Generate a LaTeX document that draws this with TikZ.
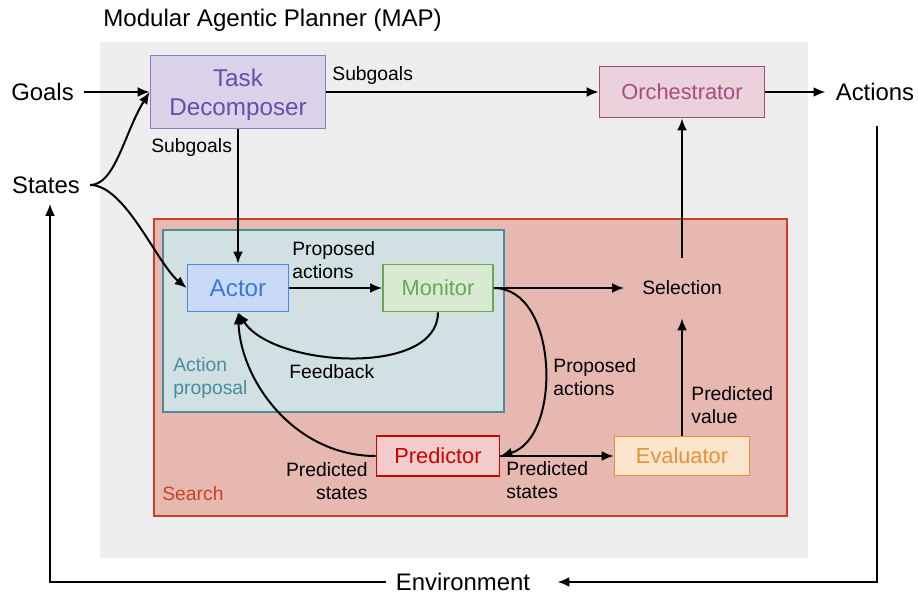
\documentclass[tikz,border=0pt]{standalone}
\usepackage{fontspec}
\setmainfont{Liberation Sans}
\usetikzlibrary{arrows.meta}
\definecolor{mapgray}{HTML}{EEEEEE}
\definecolor{searchfill}{HTML}{E6B8AF}
\definecolor{searchdraw}{HTML}{CC4125}
\definecolor{propfill}{HTML}{D0E0E3}
\definecolor{propdraw}{HTML}{4A8C99}
\definecolor{tdfill}{HTML}{D9D2E9}
\definecolor{tddraw}{HTML}{8E7CC3}
\definecolor{tdtext}{HTML}{674EA7}
\definecolor{orchfill}{HTML}{EAD1DC}
\definecolor{orchdraw}{HTML}{A64D79}
\definecolor{actorfill}{HTML}{C9DAF8}
\definecolor{actordraw}{HTML}{4A86E8}
\definecolor{actortext}{HTML}{3C78D8}
\definecolor{monfill}{HTML}{D9EAD3}
\definecolor{mondraw}{HTML}{6AA84F}
\definecolor{predfill}{HTML}{F4CCCC}
\definecolor{preddraw}{HTML}{CC0000}
\definecolor{evalfill}{HTML}{FCE5CD}
\definecolor{evaldraw}{HTML}{E69138}
\begin{document}
\begin{tikzpicture}[x=0.02cm, y=-0.02cm]
	\tikzset{>={Latex[length=6.8pt,width=5.6pt]}}
	\tikzset{
		big/.style={font=\fontsize{13.6}{16}\selectfont, inner sep=0.2cm},
		small/.style={font=\fontsize{11}{13.3}\selectfont, inner sep=0, align=left},
		module/.style={line width=1pt, inner sep=0, align=center, font=\fontsize{12.4}{15}\selectfont},
		flow/.style={->, line width=1.134pt}
	}
	\useasboundingbox (0,0) rectangle (918,594);
	\fill[color=mapgray] (100,42) rectangle (808,558);
	\filldraw[fill=searchfill, draw=searchdraw, line width=0.9pt] (154,219) rectangle (787,516);
	\filldraw[fill=propfill, draw=propdraw, line width=0.9pt] (163,230) rectangle (504,412);
	\node[anchor=base west, inner sep=0, font=\fontsize{13.7}{16}\selectfont] (title) at (103,27) {Modular Agentic Planner (MAP)};
	\node[small, anchor=base west, text=searchdraw] (search) at (162,500) {Search};
	\node[small, anchor=north west, text=propdraw] (proposal) at (173,357) {Action\\proposal};

	\node[module, fill=tdfill, draw=tddraw, text=tdtext, minimum width=3.5cm, minimum height=1.46cm, font=\fontsize{13.8}{17}\selectfont] (td) at (238,92) {\raisebox{-1.7pt}[\height][\depth]{\begin{tabular}{@{}c@{}}Task\\Decomposer\end{tabular}}};
	\node[module, fill=orchfill, draw=orchdraw, text=orchdraw, minimum width=3.3cm, minimum height=1.02cm] (orch) at (682,92) {Orchestrator};
	\node[module, fill=actorfill, draw=actordraw, text=actortext, minimum width=2.02cm, minimum height=0.94cm, font=\fontsize{13.8}{17}\selectfont] (actor) at (238,288) {Actor};
	\node[module, fill=monfill, draw=mondraw, text=mondraw, minimum width=2.2cm, minimum height=0.94cm] (monitor) at (438,288) {Monitor};
	\node[module, fill=predfill, draw=preddraw, text=preddraw, minimum width=2.46cm, minimum height=0.8cm] (predictor) at (438,456) {Predictor};
	\node[module, fill=evalfill, draw=evaldraw, text=evaldraw, minimum width=2.7cm, minimum height=0.78cm] (eval) at (682,456) {Evaluator};
	\node[inner sep=0, minimum width=2.3cm, minimum height=1.2cm, font=\fontsize{11}{13}\selectfont] (sel) at (682,288) {Selection};

	\node[big] (goals) at (42.5,92) {Goals};
	\node[big] (states) at (46,185) {States};
	\node[big] (actions) at (875,92) {Actions};
	\node[big] (env) at (463,582) {Environment};

	\draw[flow] (goals.east) -- (td.west);
	\draw[flow] (states.east) .. controls +(25,0) and +(-25,40) .. (td.west);
	\draw[flow] (states.east) .. controls +(35,0) and +(-30,-25) .. (actor.west);
	\draw[flow] (td.east) -- (orch.west);
	\draw[flow] (orch.east) -- (actions.west);
	\draw[flow] (td.south) -- (actor.north);
	\draw[flow] (actor.east) -- (monitor.west);
	\draw[flow] (monitor.south) .. controls +(0,65) and +(35,55) .. (actor.south);
	\draw[flow] (monitor.east) -- (sel.west);
	\draw[flow] (monitor.east) .. controls +(65,0) and +(62,-18) .. (predictor.east);
	\draw[flow] (predictor.west) .. controls +(-80,0) and +(3,70) .. (actor.south);
	\draw[flow] (predictor.east) -- (eval.west);
	\draw[flow] (eval.north) -- (sel.south);
	\draw[flow] (sel.north) -- (orch.south);
	\draw[flow] ([xshift=0.04cm, yshift=-0.3cm]actions.south) |- ([xshift=0.34cm]env.east);
	\draw[flow] (env.west) -| ([xshift=0.08cm]states.south);

	\node[small, anchor=base west] (sgright) at (332,81) {Subgoals};
	\node[small, anchor=base west] (sgdown) at (151,153) {Subgoals};
	\node[small, anchor=north west] (propose) at (292,241) {Proposed\\actions};
	\node[small, anchor=base west] (feedback) at (289,378) {Feedback};
	\node[small, anchor=north west] (proposeb) at (553,358) {Proposed\\actions};
	\node[small, anchor=north west] (predval) at (691,386) {Predicted\\value};
	\node[small, anchor=north west] (predst) at (506,461) {Predicted\\states};
	\node[small, anchor=north east, align=right] (predstb) at (368,462) {Predicted\\states};
\end{tikzpicture}
\end{document}
